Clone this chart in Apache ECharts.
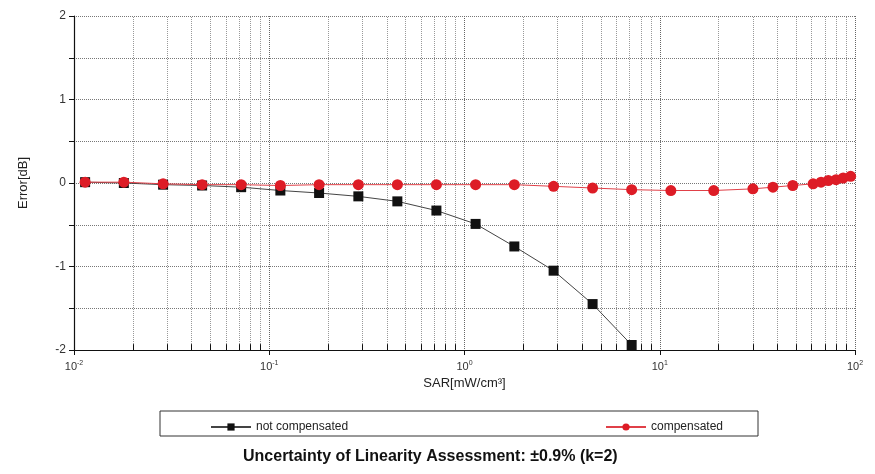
<!DOCTYPE html>
<html>
<head>
<meta charset="utf-8">
<script src="https://cdn.jsdelivr.net/npm/echarts@6/dist/echarts.min.js"></script>
<style>html,body{margin:0;padding:0;background:#fff}#c{width:875px;height:474px}</style>
</head>
<body>
<div id="c"></div>
<script>
// SAR values (mW/cm^3), log x axis
const sarNotComp = [0.0114, 0.018, 0.0286, 0.0453, 0.0718, 0.114, 0.18, 0.286, 0.453, 0.718, 1.14, 1.8, 2.86, 4.53, 7.18];
const errNotComp = [0.01, 0.0, -0.02, -0.03, -0.05, -0.09, -0.12, -0.16, -0.22, -0.33, -0.49, -0.76, -1.05, -1.45, -1.94];
const sarComp = [0.0114, 0.018, 0.0286, 0.0453, 0.0718, 0.114, 0.18, 0.286, 0.453, 0.718, 1.14, 1.8, 2.86, 4.53, 7.18, 11.4, 18.9, 30, 38, 48, 61, 67, 73, 80, 87, 95];
const errComp = [0.01, 0.01, -0.01, -0.02, -0.02, -0.03, -0.02, -0.02, -0.02, -0.02, -0.02, -0.02, -0.04, -0.06, -0.08, -0.09, -0.09, -0.07, -0.05, -0.03, -0.01, 0.01, 0.03, 0.04, 0.06, 0.08];
const minorX = [0.02,0.03,0.04,0.05,0.06,0.07,0.08,0.09,0.2,0.3,0.4,0.5,0.6,0.7,0.8,0.9,2,3,4,5,6,7,8,9,20,30,40,50,60,70,80,90];
const seriesNames = ['not compensated', 'compensated'];
const titleText = 'Uncertainty of Linearity Assessment: \u00b10.9% (k=2)';
const xName = 'SAR[mW/cm\u00b3]';
const yName = 'Error[dB]';

const chart = echarts.init(document.getElementById('c'), null, {renderer: 'canvas'});
const font = 'Liberation Sans, Arial, sans-serif';
const gridLines = minorX.map(v => ({xAxis: v}));
const minorTicks = minorX.map(v => [{coord: [v, -2]}, {coord: [v, -1.93]}]);

chart.setOption({
  animation: false,
  backgroundColor: '#fff',
  textStyle: {fontFamily: font},
  title: {
    text: titleText, left: 238, top: 444,
    textStyle: {fontSize: 16, fontWeight: 'bold', color: '#111', fontFamily: font}
  },
  legend: [
    {data: [seriesNames[0]], left: 205, top: 416, itemWidth: 40, itemHeight: 9,
     textStyle: {fontSize: 12, color: '#222', fontFamily: font}},
    {data: [seriesNames[1]], left: 600, top: 416, itemWidth: 40, itemHeight: 9,
     textStyle: {fontSize: 12, color: '#222', fontFamily: font}}
  ],
  graphic: [{type: 'rect', shape: {x: 160, y: 411, width: 598, height: 25}, style: {fill: 'none', stroke: '#333', lineWidth: 1}, silent: true}],
  grid: {left: 74, right: 20, top: 16, bottom: 124},
  xAxis: {
    type: 'log', logBase: 10, min: 0.01, max: 100,
    name: xName, nameLocation: 'middle', nameGap: 27,
    nameTextStyle: {fontSize: 13, color: '#222', fontFamily: font},
    axisLine: {onZero: false, lineStyle: {color: '#111', width: 1.2}},
    axisTick: {show: true, length: 5, lineStyle: {color: '#111'}},
    axisLabel: {
      margin: 10,
      formatter: v => '{b|10}{s|' + Math.round(Math.log10(v)) + '}',
      rich: {b: {fontSize: 11, color: '#333'}, s: {fontSize: 7, color: '#333', verticalAlign: 'top', padding: [0, 0, 7, 0]}}
    },
    splitLine: {show: true, lineStyle: {type: 'dotted', color: '#666', width: 1}}
  },
  yAxis: {
    type: 'value', min: -2, max: 2, interval: 0.5,
    name: yName, nameLocation: 'middle', nameGap: 44, nameRotate: 90,
    nameTextStyle: {fontSize: 13, color: '#222', fontFamily: font},
    axisLine: {show: true, onZero: false, lineStyle: {color: '#111', width: 1.2}},
    axisTick: {show: true, length: 5, inside: false, lineStyle: {color: '#111'}},
    axisLabel: {fontSize: 12, color: '#333', margin: 8,
      formatter: v => (Math.abs(v - Math.round(v)) < 1e-9 ? String(Math.round(v)) : '')},
    splitLine: {show: true, lineStyle: {type: 'dotted', color: '#777', width: 1}}
  },
  series: [
    {
      name: seriesNames[0], type: 'line',
      data: sarNotComp.map((x, i) => [x, errNotComp[i]]),
      symbol: 'rect', symbolSize: 10,
      itemStyle: {color: '#111'},
      lineStyle: {color: '#444', width: 1},
      z: 3,
      markLine: {
        silent: true, symbol: 'none', label: {show: false},
        lineStyle: {type: 'dotted', color: '#999', width: 1},
        data: gridLines, z: 1, animation: false
      }
    },
    {
      name: seriesNames[1], type: 'line',
      data: sarComp.map((x, i) => [x, errComp[i]]),
      symbol: 'circle', symbolSize: 11,
      itemStyle: {color: '#dd1c26'},
      lineStyle: {color: '#e04048', width: 1},
      z: 4,
      markLine: {
        silent: true, symbol: 'none', label: {show: false},
        lineStyle: {type: 'solid', color: '#111', width: 1},
        data: minorTicks, z: 2, animation: false
      }
    }
  ]
});
</script>
</body>
</html>
